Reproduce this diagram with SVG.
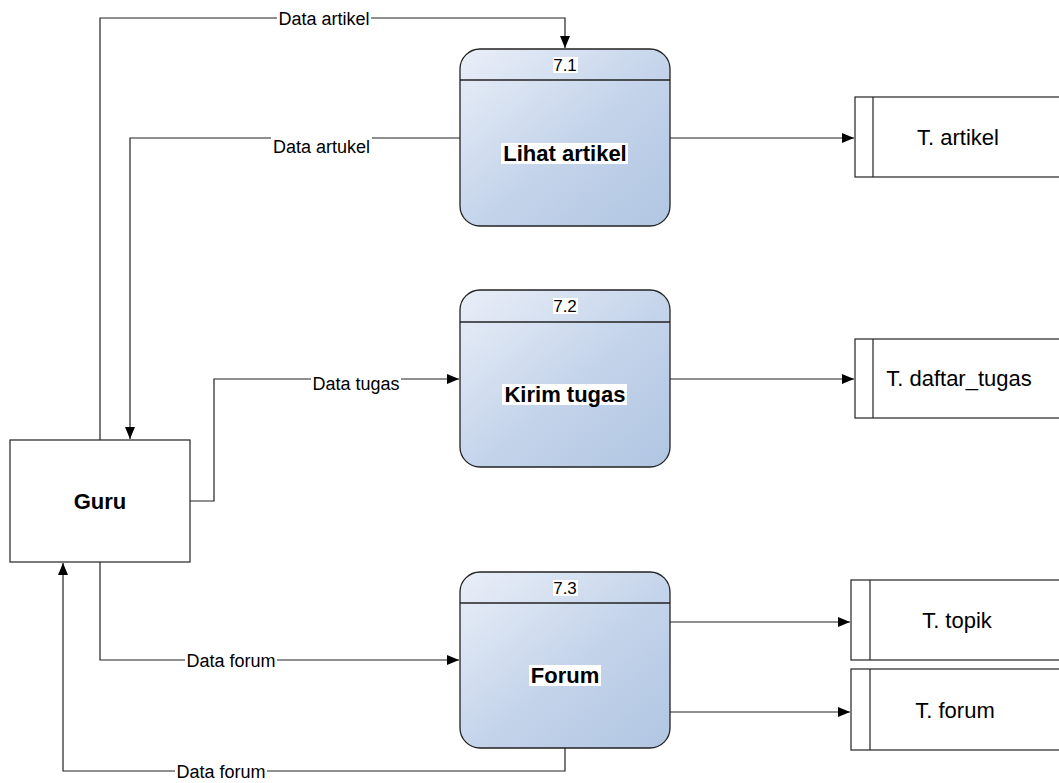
<svg xmlns="http://www.w3.org/2000/svg" width="1059" height="783" viewBox="0 0 1059 783">
<style>
.proc{stroke:#222;stroke-width:1.3;fill:url(#g)}
.hdr{stroke:#222;stroke-width:1.3}
.box{fill:#fff;stroke:#222;stroke-width:1.2}
.ln{fill:none;stroke:#222;stroke-width:1.2}
.lbl{font-family:"Liberation Sans",Arial,sans-serif;font-size:18px;fill:#000;text-anchor:middle}
.num{font-family:"Liberation Sans",Arial,sans-serif;font-size:17px;fill:#000;text-anchor:middle}
.ttl{font-family:"Liberation Sans",Arial,sans-serif;font-size:22px;font-weight:bold;fill:#000;text-anchor:middle}
.st{font-family:"Liberation Sans",Arial,sans-serif;font-size:22px;fill:#000;text-anchor:middle}
.bg{fill:#fff}
</style>
<defs>
<linearGradient id="g" x1="0" y1="0" x2="1" y2="1">
<stop offset="0" stop-color="#eaeff8"/>
<stop offset="0.55" stop-color="#c3d3ea"/>
<stop offset="1" stop-color="#b1c6e2"/>
</linearGradient>
<marker id="a" markerWidth="12" markerHeight="10" refX="12" refY="5" orient="auto" markerUnits="userSpaceOnUse">
<path d="M0,0 L12,5 L0,10 Z" fill="#000"/>
</marker>
</defs>

<g id="connectors">
<polyline class="ln" points="100,440 100,18 565,18 565,48" marker-end="url(#a)"/>
<polyline class="ln" points="460,138 130,138 130,439" marker-end="url(#a)"/>
<line class="ln" x1="670" y1="138" x2="854" y2="138" marker-end="url(#a)"/>
<polyline class="ln" points="190,501 214,501 214,379 459,379" marker-end="url(#a)"/>
<line class="ln" x1="670" y1="379" x2="854" y2="379" marker-end="url(#a)"/>
<polyline class="ln" points="100,562 100,660 459,660" marker-end="url(#a)"/>
<polyline class="ln" points="565,748 565,771 63,771 63,563" marker-end="url(#a)"/>
<line class="ln" x1="670" y1="622" x2="850" y2="622" marker-end="url(#a)"/>
<line class="ln" x1="670" y1="712" x2="850" y2="712" marker-end="url(#a)"/>
<rect class="bg" x="277" y="9" width="94" height="18"/>
<text class="lbl" x="324" y="24.5">Data artikel</text>
<rect class="bg" x="271" y="137" width="101" height="17"/>
<text class="lbl" x="321.5" y="152.5">Data artukel</text>
<rect class="bg" x="311" y="374" width="90" height="17"/>
<text class="lbl" x="356" y="389.5">Data tugas</text>
<rect class="bg" x="185" y="651" width="92" height="18"/>
<text class="lbl" x="231" y="666.5">Data forum</text>
<rect class="bg" x="175" y="762" width="92" height="18"/>
<text class="lbl" x="221" y="777.5">Data forum</text>
</g>

<g id="guru">
<rect class="box" x="10" y="440" width="180" height="122"/>
<text class="ttl" x="100" y="509">Guru</text>
</g>

<g id="p71">
<rect class="proc" x="460" y="49" width="210" height="177" rx="20" ry="20"/>
<line class="hdr" x1="460" y1="80" x2="670" y2="80"/>
<rect class="bg" x="553" y="57" width="25" height="16"/>
<text class="num" x="565" y="71">7.1</text>
<rect class="bg" x="501" y="143" width="127" height="21"/>
<text class="ttl" x="565" y="161">Lihat artikel</text>
</g>

<g id="p72">
<rect class="proc" x="460" y="290" width="210" height="177" rx="20" ry="20"/>
<line class="hdr" x1="460" y1="322" x2="670" y2="322"/>
<rect class="bg" x="553" y="298" width="25" height="16"/>
<text class="num" x="565" y="312">7.2</text>
<rect class="bg" x="502" y="384" width="125" height="21"/>
<text class="ttl" x="565" y="402">Kirim tugas</text>
</g>

<g id="p73">
<rect class="proc" x="460" y="572" width="210" height="176" rx="20" ry="20"/>
<line class="hdr" x1="460" y1="603" x2="670" y2="603"/>
<rect class="bg" x="553" y="580" width="25" height="16"/>
<text class="num" x="565" y="594">7.3</text>
<rect class="bg" x="529" y="665" width="72" height="21"/>
<text class="ttl" x="565" y="683">Forum</text>
</g>

<g id="t_artikel">
<rect class="box" x="855" y="97" width="220" height="80"/>
<line class="ln" x1="873" y1="97" x2="873" y2="177"/>
<text class="st" x="958" y="145">T. artikel</text>
</g>

<g id="t_daftar_tugas">
<rect class="box" x="855" y="339" width="220" height="79"/>
<line class="ln" x1="873" y1="339" x2="873" y2="418"/>
<text class="st" x="959" y="386">T. daftar_tugas</text>
</g>

<g id="t_topik">
<rect class="box" x="851" y="580" width="220" height="80"/>
<line class="ln" x1="870" y1="580" x2="870" y2="660"/>
<text class="st" x="957" y="628">T. topik</text>
</g>

<g id="t_forum">
<rect class="box" x="851" y="669" width="220" height="81"/>
<line class="ln" x1="870" y1="669" x2="870" y2="750"/>
<text class="st" x="955" y="718">T. forum</text>
</g>
</svg>
